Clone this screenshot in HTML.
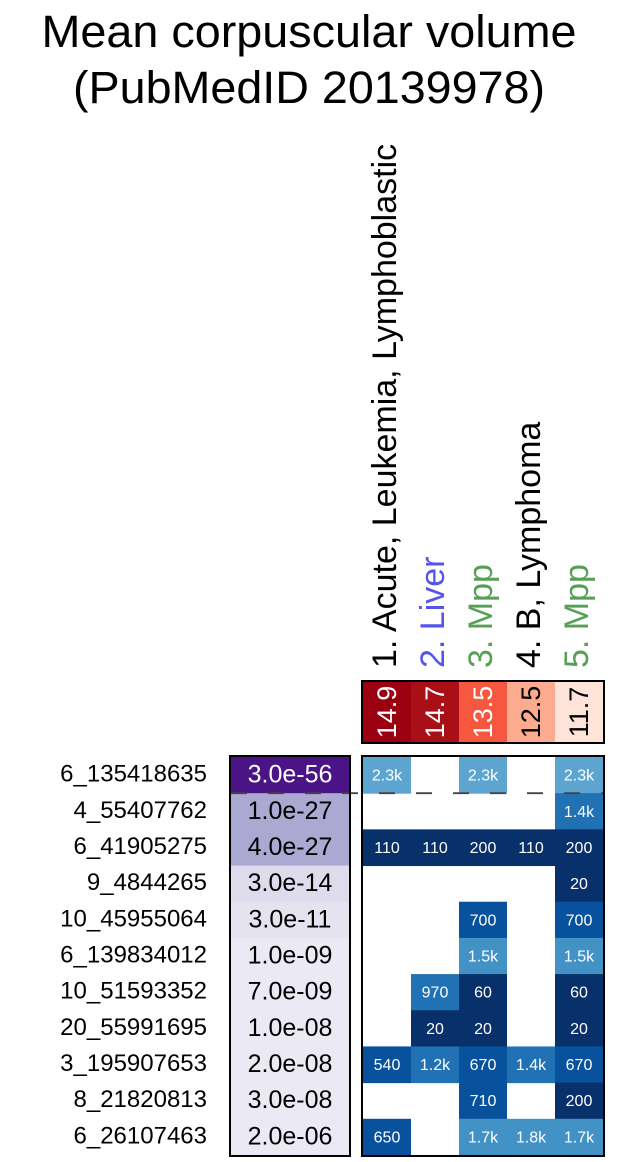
<!DOCTYPE html>
<html><head><meta charset="utf-8"><style>
body{margin:0;background:#fff;}
svg{display:block;font-family:"Liberation Sans",sans-serif;}
</style></head><body>
<svg id="chart" width="618" height="1162" viewBox="0 0 618 1162" xmlns="http://www.w3.org/2000/svg">
<text x="309" y="47" font-size="45" text-anchor="middle" textLength="535" lengthAdjust="spacingAndGlyphs">Mean corpuscular volume</text>
<text x="309" y="103" font-size="45" text-anchor="middle" textLength="472" lengthAdjust="spacingAndGlyphs">(PubMedID 20139978)</text>
<g id="g"></g>
</svg>
<script>
const columns = ["1. Acute, Leukemia, Lymphoblastic","2. Liver","3. Mpp","4. B, Lymphoma","5. Mpp"];
const columnColors = ["#000","#5555ee","#55a055","#000","#55a055"];
const headerValues = [14.9,14.7,13.5,12.5,11.7];
const rowLabels = ["6_135418635","4_55407762","6_41905275","9_4844265","10_45955064","6_139834012","10_51593352","20_55991695","3_195907653","8_21820813","6_26107463"];
const pLabels = ["3.0e-56","1.0e-27","4.0e-27","3.0e-14","3.0e-11","1.0e-09","7.0e-09","1.0e-08","2.0e-08","3.0e-08","2.0e-06"];
const pExp = [56,27,27,14,11,9,9,8,8,8,6];
const cellValues = [
 [2300,null,2300,null,2300],
 [null,null,null,null,1400],
 [110,110,200,110,200],
 [null,null,null,null,20],
 [null,null,700,null,700],
 [null,null,1500,null,1500],
 [null,970,60,null,60],
 [null,20,20,null,20],
 [540,1200,670,1400,670],
 [null,null,710,null,200],
 [650,null,1700,1800,1700]
];
const NS="http://www.w3.org/2000/svg";
const g=document.getElementById('g');
function mk(t,a,p){const e=document.createElementNS(NS,t);for(const k in a)e.setAttribute(k,a[k]);(p||g).appendChild(e);return e;}
const gx0=363, cw=48, gy0=757, rh=36.18, px0=231, pw=118, hy0=682, hh=60;
const xS=i=>gx0+i*cw, yS=j=>gy0+j*rh;
function fmt(v){return v>=1000?(v/1000).toFixed(1)+"k":String(v);}
function blue(v){if(v<=400)return"#08306b";if(v<=800)return"#08519c";if(v<=1450)return"#2171b5";if(v<=2000)return"#4292c6";return"#5ea4d1";}
function red(v){if(v>=14.8)return"#9b0010";if(v>=14.2)return"#a90f17";if(v>=13)return"#f6573f";if(v>=12)return"#fcab8f";return"#fee4d8";}
function purple(e){if(e>=50)return"#4a1486";if(e>=20)return"#aba8d2";if(e>=12)return"#dedcec";if(e>=10)return"#e5e3f0";return"#ebe9f4";}
columns.forEach((c,i)=>{const cx=xS(i)+cw/2+9;
 const t=mk('text',{x:cx,y:668,'font-size':34,fill:columnColors[i],transform:`rotate(-90 ${cx} 668)`});
 
 
 t.textContent=c;});
headerValues.forEach((v,i)=>{const r=mk('rect',{x:xS(i),y:hy0,width:cw,height:hh,fill:red(v)});
 
 
 const cx=xS(i)+cw/2+9,cy=hy0+hh/2;
 const t=mk('text',{x:cx,y:cy,'font-size':27,'text-anchor':'middle',fill:v>=13?"#fff":"#000",transform:`rotate(-90 ${cx} ${cy})`});
 
 
 t.textContent=v.toFixed(1);});
const hb=mk('rect',{x:xS(0)-1,y:hy0-1,width:cw*5+2,height:hh+2,fill:'none',stroke:'#000','stroke-width':2});

rowLabels.forEach((l,j)=>{const cy=yS(j)+rh/2;
 const t=mk('text',{x:207,y:cy+6.5,'font-size':24,'text-anchor':'end'});
 
 
 t.textContent=l;
 const r=mk('rect',{x:px0,y:yS(j),width:pw,height:rh+0.5,fill:purple(pExp[j])});
 
 
 const pt=mk('text',{x:px0+pw/2,y:cy+7.5,'font-size':25,'text-anchor':'middle',fill:pExp[j]>=50?"#fff":"#000"});
 
 
 pt.textContent=pLabels[j];
 cellValues[j].forEach((v,i)=>{if(v==null)return;
  const c=mk('rect',{x:xS(i),y:yS(j),width:cw,height:rh+0.5,fill:blue(v)});
  
  
  const ct=mk('text',{x:xS(i)+cw/2,y:cy+5.5,'font-size':16,'text-anchor':'middle',fill:'#fff'});
  
  
  ct.textContent=fmt(v);});
});
const H=rh*rowLabels.length;
const dl=mk('line',{x1:px0,x2:xS(5),y1:yS(1),y2:yS(1),stroke:'#444','stroke-width':1.8,'stroke-dasharray':'16,21'});

const pb=mk('rect',{x:px0-1,y:gy0-1,width:pw+2,height:H+2,fill:'none',stroke:'#000','stroke-width':2});

const mb=mk('rect',{x:xS(0)-1,y:gy0-1,width:cw*5+2,height:H+2,fill:'none',stroke:'#000','stroke-width':2});

</script>
</body></html>
